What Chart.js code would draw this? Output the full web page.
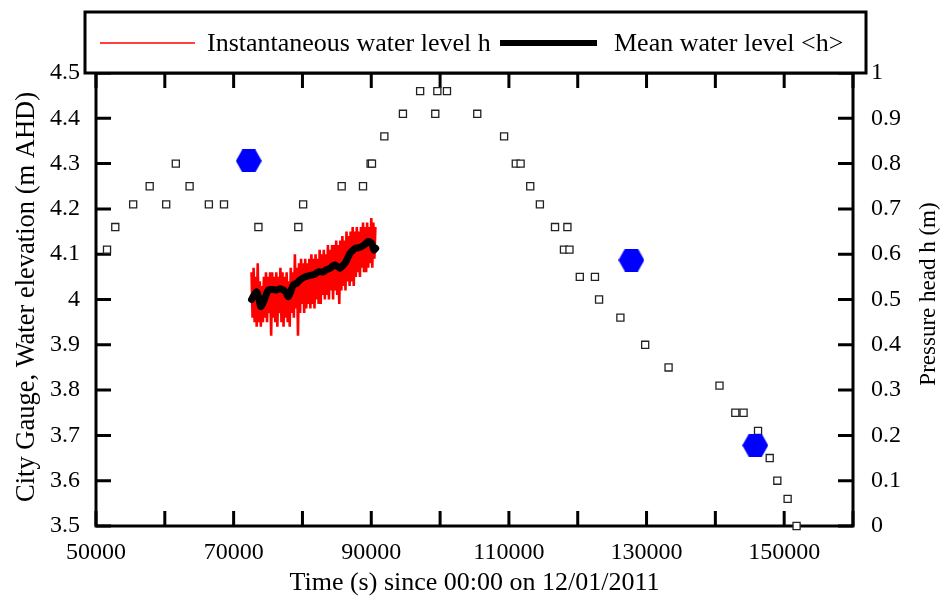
<!DOCTYPE html>
<html>
<head>
<meta charset="utf-8">
<script src="https://cdn.jsdelivr.net/npm/chart.js@4.4.0/dist/chart.umd.min.js"></script>
<style>
  html, body { margin: 0; padding: 0; background: #fff; }
  #wrap { width: 944px; height: 600px; }
</style>
</head>
<body>
<div id="wrap"><canvas id="levels" width="944" height="600"></canvas></div>
<script>
// City Gauge record, water elevation (m AHD)
const gaugeTime = [51600, 52800, 55400, 57800, 60200, 61600, 63600, 66400, 68600, 73600,
  79400, 80100, 85700, 88800, 89900, 90100, 91900, 94600, 97100, 99300,
  99600, 101000, 105400, 109300, 111000, 111700, 113100, 114500, 116700, 118000,
  118500, 118800, 120300, 122500, 123100, 126200, 129800, 133200, 140600, 142900,
  144100, 146200, 147900, 149000, 150500, 151800];
const gaugeLevel = [4.11, 4.16, 4.21, 4.25, 4.21, 4.30, 4.25, 4.21, 4.21, 4.16,
  4.16, 4.21, 4.25, 4.25, 4.30, 4.30, 4.36, 4.41, 4.46, 4.41,
  4.46, 4.46, 4.41, 4.36, 4.30, 4.30, 4.25, 4.21, 4.16, 4.11,
  4.16, 4.11, 4.05, 4.05, 4.00, 3.96, 3.90, 3.85, 3.81, 3.75,
  3.75, 3.71, 3.65, 3.60, 3.56, 3.50];

// pressure head h (m), right axis
const headTime = [72200, 127800, 145800];
const headValue = [0.806, 0.587, 0.178];

// instantaneous level, logged every 150 s from 72600 s
const instStart = 72600;
const instStep = 150;
const instLevel = [
  4.06, 3.96, 4.07, 3.95, 4.05, 3.94, 4.08, 3.95, 4.04, 3.94,
  4.03, 3.95, 4.05, 3.96, 4.06, 3.95, 4.05, 3.97, 4.06, 3.92,
  4.06, 3.96, 4.05, 3.95, 4.06, 3.94, 4.05, 3.97, 4.07, 3.95,
  4.06, 3.94, 4.05, 3.96, 4.06, 3.95, 4.04, 3.94, 4.07, 3.97,
  4.06, 3.96, 4.10, 3.98, 4.07, 3.92, 4.08, 3.97, 4.09, 3.99,
  4.08, 3.97, 4.09, 3.98, 4.08, 3.99, 4.09, 3.98, 4.10, 3.99,
  4.09, 3.98, 4.10, 4.00, 4.09, 3.99, 4.11, 3.99, 4.10, 4.01,
  4.11, 4.00, 4.10, 4.01, 4.12, 4.00, 4.11, 4.02, 4.12, 4.00,
  4.12, 4.02, 4.13, 4.01, 4.12, 3.99, 4.13, 4.02, 4.14, 4.03,
  4.13, 4.02, 4.15, 4.04, 4.14, 4.03, 4.15, 4.04, 4.16, 4.03,
  4.15, 4.05, 4.16, 4.06, 4.15, 4.05, 4.16, 4.07, 4.17, 4.06,
  4.16, 4.06, 4.17, 4.07, 4.16, 4.08, 4.18, 4.07, 4.17, 4.09,
  4.16
];

// running mean <h>
const meanTime = [72600, 72900, 73350, 73700, 73930, 74200, 74560, 75040, 75600, 76250,
  76800, 77220, 77600, 77940, 78300, 78670, 79200, 79640, 80370, 81340,
  81800, 82300, 83030, 83500, 84000, 84400, 84730, 85100, 85450, 85800,
  86180, 86500, 86900, 87300, 87630, 88100, 88600, 89100, 89570, 89800,
  90060, 90250, 90400, 90640];
const meanLevel = [4.000, 4.008, 4.017, 4.000, 3.984, 3.990, 4.003, 4.021, 4.022, 4.021,
  4.024, 4.021, 4.016, 4.006, 4.018, 4.032, 4.036, 4.043, 4.050, 4.054,
  4.056, 4.061, 4.061, 4.066, 4.069, 4.074, 4.076, 4.073, 4.069, 4.074,
  4.080, 4.089, 4.102, 4.108, 4.113, 4.114, 4.117, 4.122, 4.128, 4.127,
  4.124, 4.115, 4.109, 4.113];

const xLabelled = [50000, 70000, 90000, 110000, 130000, 150000];

const FONT = 'Liberation Serif';

function pairs(xs, ys) {
  return ys.map((y, i) => ({ x: xs[i], y: y }));
}

// blue hexagon marker, points left/right
function hexagon(w, h, color) {
  const c = document.createElement('canvas');
  c.width = w;
  c.height = h;
  const g = c.getContext('2d');
  g.fillStyle = color;
  g.beginPath();
  g.moveTo(0, h / 2);
  g.lineTo(w * 0.25, 0);
  g.lineTo(w * 0.75, 0);
  g.lineTo(w, h / 2);
  g.lineTo(w * 0.75, h);
  g.lineTo(w * 0.25, h);
  g.closePath();
  g.fill();
  return c;
}

const oneDecimal = v => String(Number(Number(v).toFixed(1)));

// box, inward ticks on all four sides, titles and legend
const framePlugin = {
  id: 'frame',
  beforeDatasetsDraw(chart) {
    const { ctx, chartArea: a, scales } = chart;
    const len = 15;
    ctx.save();
    ctx.strokeStyle = '#000';
    ctx.lineWidth = 3;
    ctx.beginPath();
    scales.x.ticks.forEach(t => {
      const px = scales.x.getPixelForValue(t.value);
      ctx.moveTo(px, a.bottom);
      ctx.lineTo(px, a.bottom - len);
      ctx.moveTo(px, a.top);
      ctx.lineTo(px, a.top + len);
    });
    scales.y.ticks.forEach(t => {
      const py = scales.y.getPixelForValue(t.value);
      ctx.moveTo(a.left, py);
      ctx.lineTo(a.left + len, py);
    });
    scales.y2.ticks.forEach(t => {
      const py = scales.y2.getPixelForValue(t.value);
      ctx.moveTo(a.right, py);
      ctx.lineTo(a.right - len, py);
    });
    ctx.stroke();
    ctx.strokeRect(a.left, a.top, a.right - a.left, a.bottom - a.top);
    ctx.restore();
  },
  afterDraw(chart) {
    const { ctx, chartArea: a } = chart;
    ctx.save();
    ctx.fillStyle = '#000';
    ctx.font = '26px "' + FONT + '"';
    ctx.textAlign = 'center';
    ctx.textBaseline = 'middle';
    ctx.fillText('Time (s) since 00:00 on 12/01/2011', (a.left + a.right) / 2, 583);

    ctx.save();
    ctx.translate(27, 297);
    ctx.rotate(-Math.PI / 2);
    ctx.font = '26.5px "' + FONT + '"';
    ctx.fillText('City Gauge, Water elevation (m AHD)', 0, 0);
    ctx.restore();
    ctx.save();
    ctx.translate(929, 294);
    ctx.rotate(-Math.PI / 2);
    ctx.font = '23px "' + FONT + '"';
    ctx.fillText('Pressure head h (m)', 0, 0);
    ctx.restore();

    // legend box sitting on the top border
    const bx = 85, by = 12, bw = 781, bh = a.top - by;
    ctx.fillStyle = '#fff';
    ctx.fillRect(bx, by, bw, bh);
    ctx.strokeStyle = '#000';
    ctx.lineWidth = 3;
    ctx.strokeRect(bx, by, bw, bh);

    const inst = chart.data.datasets.find(d => d.id === 'inst');
    const mean = chart.data.datasets.find(d => d.id === 'mean');
    const ly = 43;
    ctx.textAlign = 'left';
    ctx.fillStyle = '#000';

    ctx.strokeStyle = inst.borderColor;
    ctx.lineWidth = 1.5;
    ctx.beginPath();
    ctx.moveTo(100, ly);
    ctx.lineTo(195, ly);
    ctx.stroke();
    ctx.fillText(inst.label, 207, ly + 1);

    ctx.strokeStyle = mean.borderColor;
    ctx.lineWidth = 6;
    ctx.beginPath();
    ctx.moveTo(500, ly);
    ctx.lineTo(597, ly);
    ctx.stroke();
    ctx.fillText(mean.label, 614, ly + 1);
    ctx.restore();
  }
};

const instData = instLevel.map((y, i) => ({ x: instStart + i * instStep, y: y }));

new Chart(document.getElementById('levels').getContext('2d'), {
  type: 'scatter',
  data: {
    datasets: [
      {
        id: 'inst',
        label: 'Instantaneous water level h',
        data: instData,
        showLine: true,
        borderColor: '#ff0000',
        borderWidth: 2.6,
        pointRadius: 0,
        tension: 0,
        order: 4,
        yAxisID: 'y',
      },
      {
        id: 'mean',
        label: 'Mean water level <h>',
        data: pairs(meanTime, meanLevel),
        showLine: true,
        borderColor: '#000000',
        borderWidth: 7,
        borderJoinStyle: 'round',
        borderCapStyle: 'round',
        pointRadius: 0,
        tension: 0.3,
        order: 3,
        yAxisID: 'y',
      },
      {
        id: 'gauge',
        label: 'City Gauge',
        data: pairs(gaugeTime, gaugeLevel),
        pointStyle: 'rect',
        pointRadius: 5,
        borderColor: '#222',
        borderWidth: 1.3,
        backgroundColor: '#fff',
        clip: false,
        order: 2,
        yAxisID: 'y',
      },
      {
        id: 'head',
        label: 'Pressure head',
        data: pairs(headTime, headValue),
        pointStyle: hexagon(26, 23, '#0000ff'),
        pointRadius: 12,
        clip: false,
        order: 1,
        yAxisID: 'y2',
      },
    ],
  },
  options: {
    responsive: false,
    animation: false,
    events: [],
    layout: { padding: { top: 73, left: 0, right: 0, bottom: 0 } },
    plugins: {
      legend: { display: false },
      tooltip: { enabled: false },
    },
    scales: {
      x: {
        type: 'linear',
        min: 50000,
        max: 160000,
        grid: { display: false },
        border: { display: false },
        afterFit: s => { s.height = 74; },
        ticks: {
          stepSize: 10000,
          autoSkip: false,
          maxRotation: 0,
          padding: 4,
          color: '#000',
          font: { family: FONT, size: 24 },
          callback: v => (xLabelled.includes(v) ? String(v) : ''),
        },
      },
      y: {
        position: 'left',
        min: 3.5,
        max: 4.5,
        grid: { display: false },
        border: { display: false },
        afterFit: s => { s.width = 96; },
        ticks: {
          stepSize: 0.1,
          padding: 8,
          color: '#000',
          font: { family: FONT, size: 24 },
          callback: oneDecimal,
        },
      },
      y2: {
        position: 'right',
        min: 0,
        max: 1,
        grid: { display: false },
        border: { display: false },
        afterFit: s => { s.width = 91; },
        ticks: {
          stepSize: 0.1,
          padding: 10,
          color: '#000',
          font: { family: FONT, size: 24 },
          callback: oneDecimal,
        },
      },
    },
  },
  plugins: [framePlugin],
});
</script>
</body>
</html>
